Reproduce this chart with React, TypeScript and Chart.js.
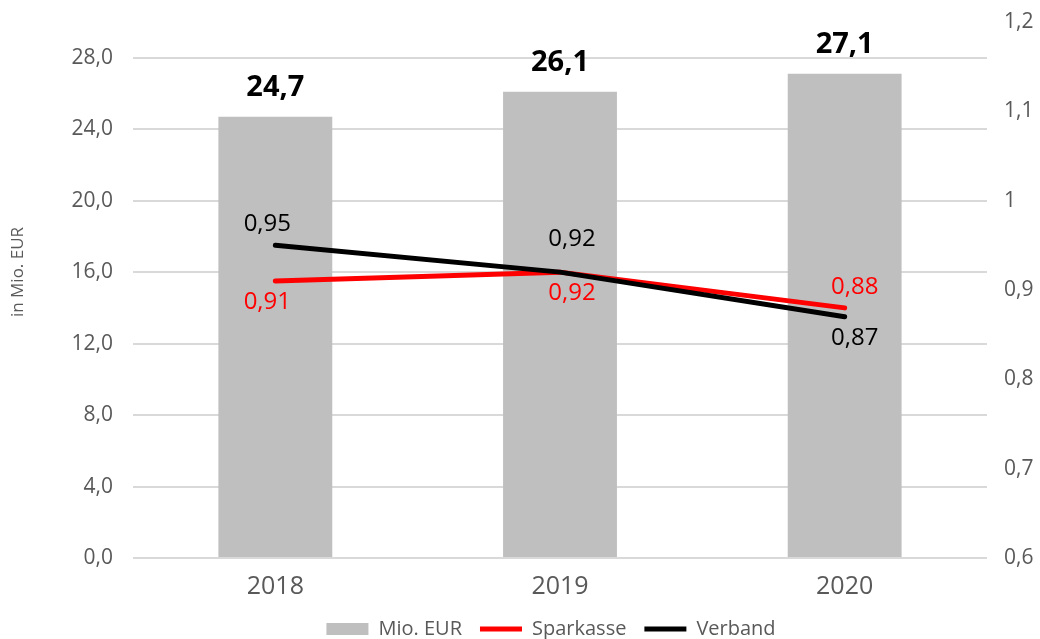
import React, { useEffect, useRef } from "react";
import { Chart, registerables } from "chart.js";

Chart.register(...registerables);

const categories = ["2018", "2019", "2020"];
const mioEur = [24.7, 26.1, 27.1];
const sparkasse = [0.91, 0.92, 0.88];
const verband = [0.95, 0.92, 0.87];
const leftTicksMax = 28;
const leftAxisTitle = "in Mio. EUR";

const FONT = "'Open Sans', 'Noto Sans', sans-serif";
const GRAY_TEXT = "#595959";

const fmt = (v: number, d: number) => v.toFixed(d).replace(".", ",");

// label placement (relative to the point): which side and pixel nudges
const labelPlacement: Record<string, { side: number[]; dist: number[]; dx: number[] }> = {
  Sparkasse: { side: [1, 1, -1], dist: [21, 21, 21], dx: [-8, 12, 10] },
  Verband: { side: [-1, -1, 1], dist: [21, 33, 21], dx: [-8, 12, 10] },
};

const valueLabels = {
  id: "valueLabels",
  afterLayout(chart: any) {
    // nudge legend like the original
    const lg = chart.legend;
    if (lg) {
      lg.left += 31;
      lg.right += 31;
      lg.top -= 7;
      lg.bottom -= 7;
    }
  },
  afterDraw(chart: any) {
    const ctx = chart.ctx;
    const ca = chart.chartArea;
    ctx.save();
    ctx.translate(18, (ca.top + ca.bottom) / 2 - 18);
    ctx.rotate(-Math.PI / 2);
    ctx.textAlign = "center";
    ctx.textBaseline = "middle";
    ctx.font = `17px ${FONT}`;
    ctx.fillStyle = GRAY_TEXT;
    ctx.fillText(leftAxisTitle, 0, 0);
    ctx.restore();
  },
  afterDatasetsDraw(chart: any) {
    const ctx = chart.ctx;
    ctx.save();
    ctx.textAlign = "center";
    ctx.textBaseline = "middle";
    chart.data.datasets.forEach((ds: any, i: number) => {
      const meta = chart.getDatasetMeta(i);
      meta.data.forEach((el: any, j: number) => {
        const v = ds.data[j];
        if (ds.type === "bar") {
          ctx.font = `bold 29px ${FONT}`;
          ctx.fillStyle = "#000";
          ctx.fillText(fmt(v, 1), el.x, el.y - 29);
        } else {
          const p = labelPlacement[ds.label];
          ctx.font = `24px ${FONT}`;
          ctx.fillStyle = ds.borderColor;
          ctx.fillText(fmt(v, 2), el.x + p.dx[j], el.y + p.side[j] * p.dist[j]);
        }
      });
    });
    ctx.restore();
  },
};

export default function App() {
  const ref = useRef<HTMLCanvasElement>(null);
  useEffect(() => {
    document.body.style.margin = "0";
    const chart = new Chart(ref.current!, {
      type: "bar",
      data: {
        labels: categories,
        datasets: [
          {
            type: "line",
            label: "Sparkasse",
            data: sparkasse,
            yAxisID: "y1",
            borderColor: "#ff0000",
            backgroundColor: "#ff0000",
            borderWidth: 5,
            borderCapStyle: "round",
            pointRadius: 0,
            pointStyle: "line",
            order: 1,
          } as any,
          {
            type: "line",
            label: "Verband",
            data: verband,
            yAxisID: "y1",
            borderColor: "#000000",
            backgroundColor: "#000000",
            borderWidth: 5,
            borderCapStyle: "round",
            pointRadius: 0,
            pointStyle: "line",
            order: 0,
          } as any,
          {
            type: "bar",
            label: "Mio. EUR",
            data: mioEur,
            yAxisID: "y",
            backgroundColor: "#bfbfbf",
            categoryPercentage: 1,
            barPercentage: 0.4,
            pointStyle: "rect",
            order: 2,
          } as any,
        ],
      },
      options: {
        animation: false,
        responsive: true,
        maintainAspectRatio: false,
        layout: { padding: { top: 0, right: 0, left: 0, bottom: -17 } },
        plugins: {
          tooltip: { enabled: false },
          legend: {
            position: "bottom",
            labels: {
              usePointStyle: true,
              pointStyleWidth: 42,
              boxHeight: 12,
              padding: 18,
              color: GRAY_TEXT,
              font: { family: FONT, size: 20 },
              sort: (a: any, b: any) => {
                const o = ["Mio. EUR", "Sparkasse", "Verband"];
                return o.indexOf(a.text) - o.indexOf(b.text);
              },
            },
          },
        },
        scales: {
          x: {
            grid: { display: false },
            border: { display: false },
            ticks: { color: GRAY_TEXT, font: { family: FONT, size: 25 }, padding: 6 },
          },
          y: {
            position: "left",
            min: 0,
            max: 30,
            afterBuildTicks: (s: any) => {
              s.ticks = s.ticks.filter((t: any) => t.value <= leftTicksMax);
            },
            afterFit: (s: any) => {
              s.width = 133;
              s.paddingTop = 0;
              s.paddingBottom = 0;
            },
            ticks: {
              stepSize: 4,
              color: GRAY_TEXT,
              font: { family: FONT, size: 21 },
              padding: 20,
              callback: (v: any) => fmt(Number(v), 1),
            },
            grid: { color: "#d9d9d9", lineWidth: 2, drawTicks: false },
            border: { display: false },
          },
          y1: {
            position: "right",
            min: 0.6,
            max: 1.2,
            afterFit: (s: any) => {
              s.width = 53;
              s.paddingTop = 22;
              s.paddingBottom = 0;
            },
            ticks: {
              stepSize: 0.1,
              color: GRAY_TEXT,
              font: { family: FONT, size: 21 },
              padding: 17,
              callback: (v: any) => String(Number(Number(v).toFixed(1))).replace(".", ","),
            },
            grid: { display: false, drawTicks: false },
            border: { display: false },
          },
        },
      },
      plugins: [valueLabels],
    });
    return () => chart.destroy();
  }, []);
  return (
    <div style={{ position: "fixed", left: 0, top: 0, width: 1040, height: 639 }}>
      <canvas ref={ref} />
    </div>
  );
}
